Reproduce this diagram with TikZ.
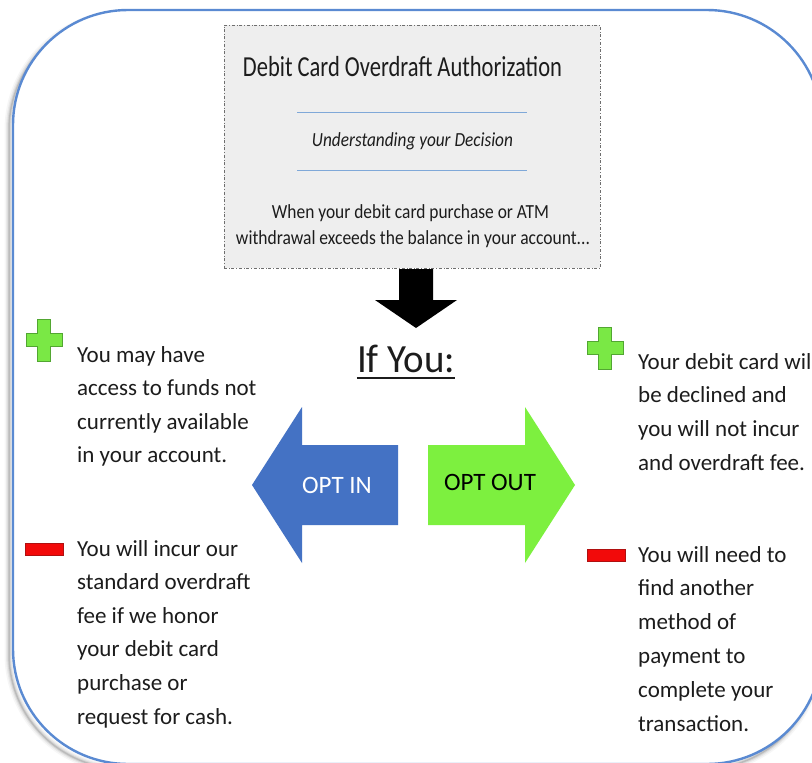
\documentclass[tikz,border=0pt]{standalone}
\usepackage{fontspec}
\setmainfont{Carlito}
\usepackage{graphicx}

\definecolor{frameblue}{HTML}{5A8AD2}
\definecolor{optblue}{HTML}{4472C4}
\definecolor{optgreen}{HTML}{7DF03F}
\definecolor{plusgreen}{HTML}{7AE845}
\definecolor{plusedge}{HTML}{52A632}
\definecolor{minusred}{HTML}{F20A0A}
\definecolor{minusedge}{HTML}{B01010}
\definecolor{boxfill}{HTML}{EEEEEE}
\definecolor{boxedge}{HTML}{6E6E6E}
\definecolor{ruleblue}{HTML}{7FA8D8}
\definecolor{ink}{HTML}{1C1C1C}

% stretch a line of text to a given width, keeping its height
\newcommand{\fitw}[2]{\resizebox{#1}{\height}{#2}}

\tikzset{
  txt/.style={inner sep=0pt, text=ink, font=\fontsize{23}{23}\selectfont, anchor=base west},
  boxtxt/.style={inner sep=0pt, text=ink, anchor=base},
  infobox/.style={draw=boxedge, dash dot, line width=0.8pt, fill=boxfill,
    minimum width=376pt, minimum height=243pt, inner sep=0pt},
  rulestyle/.style={draw=ruleblue, line width=1pt},
  pics/plusicon/.style={code={
    \fill[plusgreen, draw=plusedge, line width=0.8pt]
      (-6.5,-21) -- (6.5,-21) -- (6.5,-6.5) -- (18,-6.5) -- (18,6.5) -- (6.5,6.5)
      -- (6.5,21) -- (-6.5,21) -- (-6.5,6.5) -- (-18,6.5) -- (-18,-6.5) -- (-6.5,-6.5) -- cycle;
  }},
  pics/minusicon/.style={code={
    \fill[minusred, draw=minusedge, line width=0.6pt] (-19,-6) rectangle (19,6);
  }}
}

\begin{document}
\begin{tikzpicture}[x=1pt, y=-1pt]
\clip (0,0) rectangle (812,763);
\fill[white] (0,0) rectangle (812,763);

% soft shadow behind the rounded panel
\foreach \w/\o in {9/0.035, 6/0.05, 3.5/0.08, 1.5/0.12}
  \draw[black, opacity=\o, line width=\w pt, rounded corners=115pt] (9,15) rectangle (818,769);
% the panel
\filldraw[fill=white, draw=frameblue, line width=2.4pt, rounded corners=115pt] (13,10) rectangle (822,764);

% heading box
\node[infobox] (box) at (412,146.5) {};
\node[boxtxt] (title) at (402.5,76) {\fitw{319pt}{\fontsize{29}{29}\selectfont Debit Card Overdraft Authorization}};
\coordinate (r1a) at (297,112); \coordinate (r1b) at (527,112);
\coordinate (r2a) at (297,170); \coordinate (r2b) at (527,170);
\draw[rulestyle] (r1a) -- (r1b);
\draw[rulestyle] (r2a) -- (r2b);
\node[boxtxt] (sub) at (412.5,146) {\fitw{201pt}{\fontsize{20}{20}\selectfont\itshape Understanding your Decision}};
\node[boxtxt] (when1) at (410.5,218.5) {\fitw{277pt}{\fontsize{20}{20}\selectfont When your debit card purchase or ATM}};
\node[boxtxt] (when2) at (413,244) {\fitw{354pt}{\fontsize{20}{20}\selectfont withdrawal exceeds the balance in your account...}};

% black down arrow
\fill[black] (399,269) -- (433,269) -- (433,300) -- (457,300) -- (416,328) -- (375,300) -- (399,300) -- cycle;

% "If You:"
\node[boxtxt] (ifyou) at (406,372) {\fitw{98pt}{\fontsize{40}{40}\selectfont If You:}};
\draw[ink, line width=1.8pt] ([yshift=-6pt]ifyou.base west) -- ([yshift=-6pt]ifyou.base east);

% choice arrows
\fill[optblue] (252,485) -- (302,407) -- (302,445) -- (398,445) -- (398,525) -- (302,525) -- (302,563) -- cycle;
\fill[optgreen] (575,485) -- (525,407) -- (525,445) -- (428,445) -- (428,525) -- (525,525) -- (525,563) -- cycle;
\node[inner sep=0pt, text=white, font=\fontsize{25}{25}\selectfont] (optin) at (337,485) {OPT IN};
\node[inner sep=0pt, text=black, font=\fontsize{25}{25}\selectfont] (optout) at (490,482) {OPT OUT};

% opt-in consequences
\pic at (44,340) {plusicon};
\foreach \t [count=\i] in {You may have, access to funds not, currently available, in your account.}
  \node[txt] (inplus\i) at (77,{362+33.5*(\i-1)}) {\t};
\pic at (44,549) {minusicon};
\foreach \t [count=\i] in {You will incur our, standard overdraft, fee if we honor, your debit card, purchase or, request for cash.}
  \node[txt] (inminus\i) at (77,{556+33.6*(\i-1)}) {\t};

% opt-out consequences
\pic at (605,348) {plusicon};
\foreach \t [count=\i] in {Your debit card will, be declined and, you will not incur, and overdraft fee.}
  \node[txt] (outplus\i) at (638,{369+33.7*(\i-1)}) {\t};
\pic at (606,555) {minusicon};
\foreach \t [count=\i] in {You will need to, find another, method of, payment to, complete your, transaction.}
  \node[txt] (outminus\i) at (638,{562+33.8*(\i-1)}) {\t};
\end{tikzpicture}
\end{document}
